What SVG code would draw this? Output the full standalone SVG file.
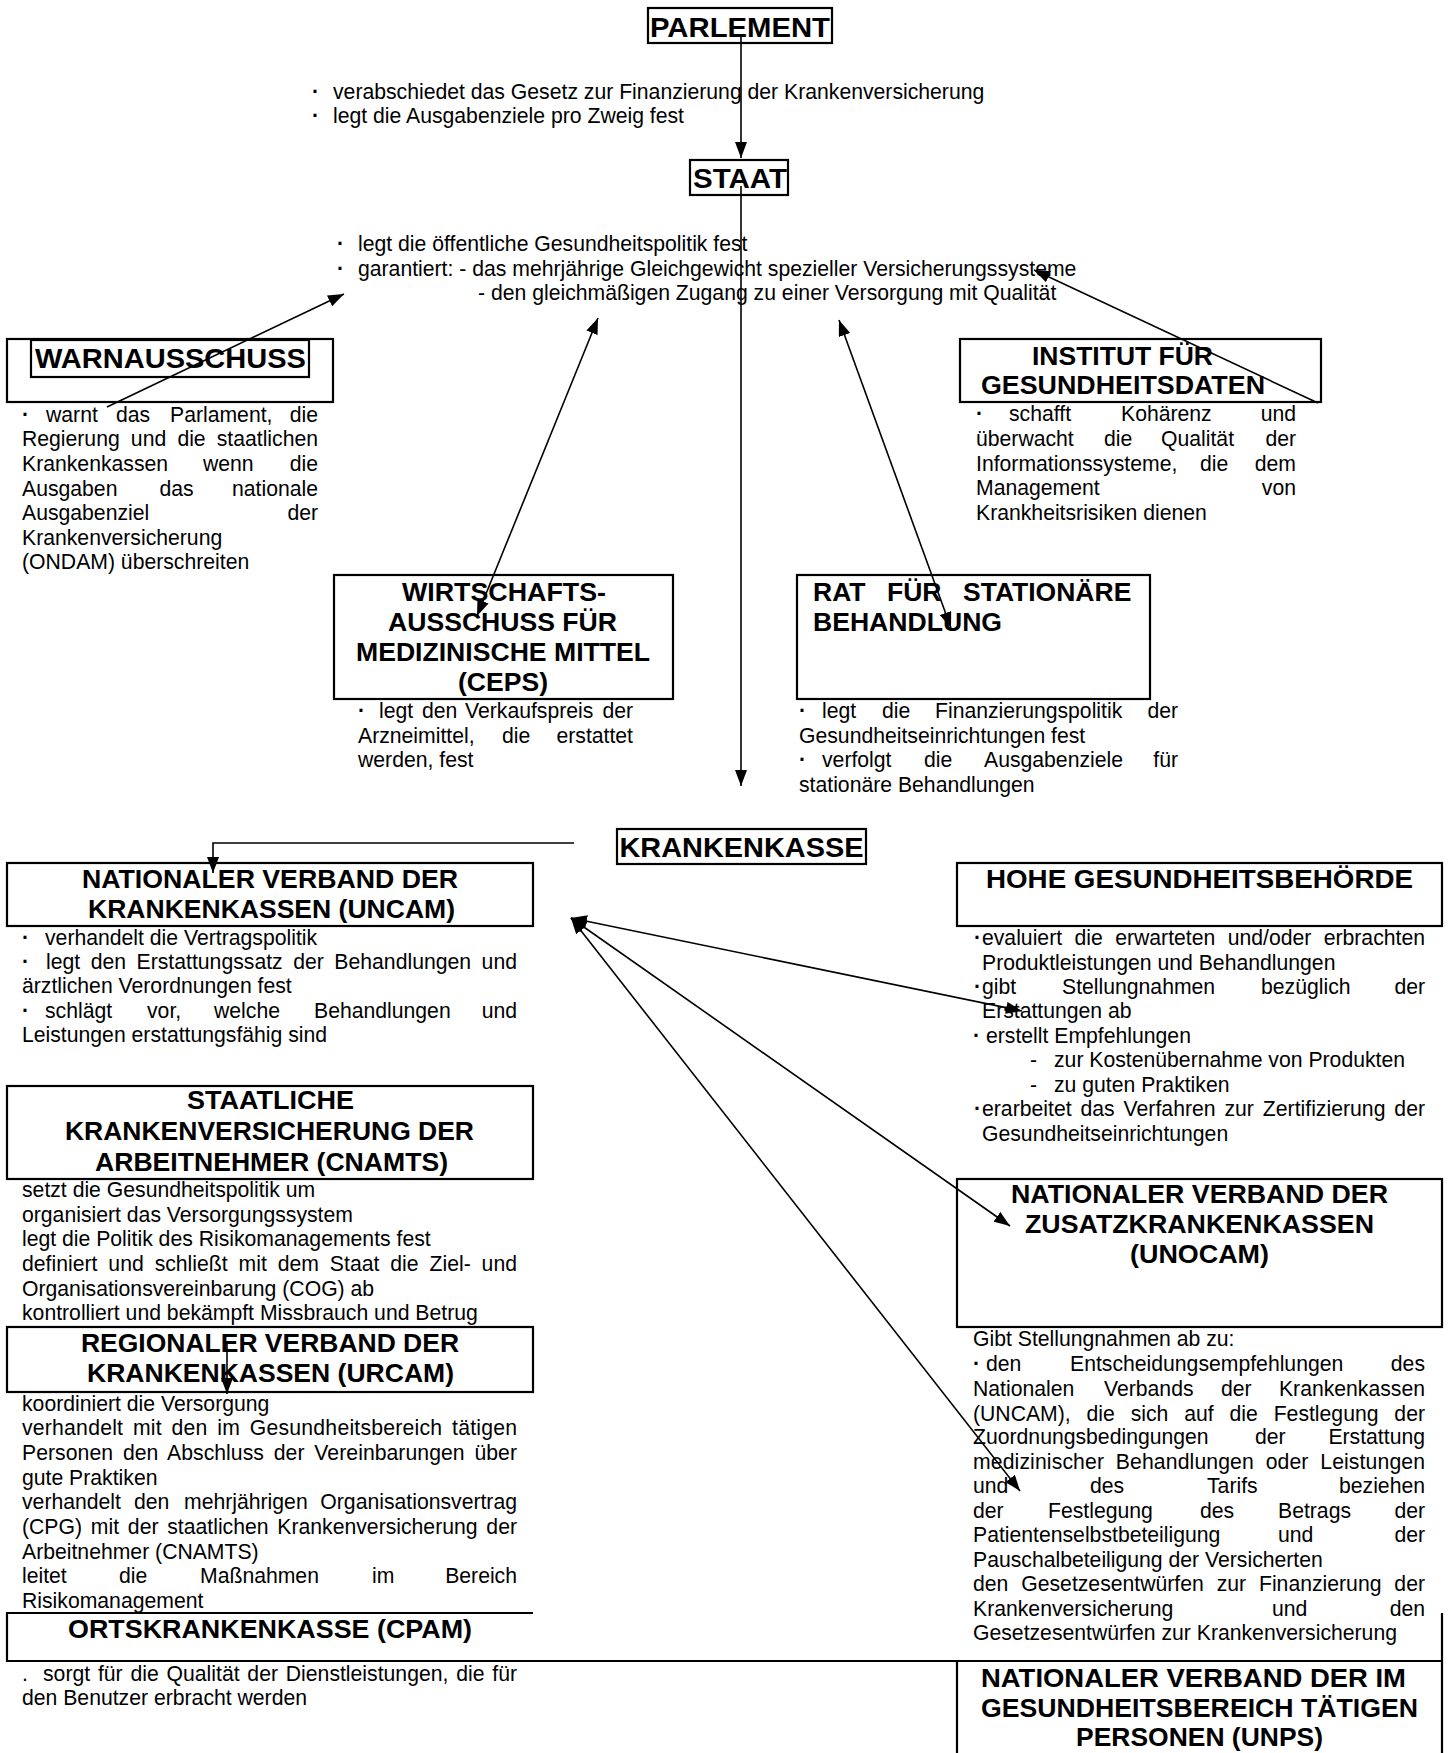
<svg xmlns="http://www.w3.org/2000/svg" width="1449" height="1753" viewBox="0 0 1449 1753">
<style>
.b{font-family:"Liberation Sans",Arial,sans-serif;font-size:21.2px;fill:#000}
.h{font-family:"Liberation Sans",Arial,sans-serif;font-weight:bold;font-size:26.5px;fill:#000;text-anchor:middle}
.h1{font-size:28.5px}
.s{text-anchor:start}
.e{text-anchor:end}
.d{font-weight:bold}
.box{fill:none;stroke:#000;stroke-width:2.2}
.c{fill:none;stroke:#000;stroke-width:1.6}
</style>
<defs>
<marker id="ah" markerUnits="userSpaceOnUse" markerWidth="16" markerHeight="12" viewBox="0 0 16 12" refX="16" refY="6" orient="auto-start-reverse"><path d="M0,0 L16,6 L0,12 z" fill="#000"/></marker>
</defs>
<rect width="1449" height="1753" fill="#fff"/>

<g id="parlement">
<rect class="box" x="648" y="8" width="184" height="35"/>
<text class="h h1" x="740" y="37" textLength="180" lengthAdjust="spacingAndGlyphs">PARLEMENT</text>
<text class="b" y="99"><tspan class="d" x="312">·</tspan><tspan x="333">verabschiedet das Gesetz zur Finanzierung der Krankenversicherung</tspan></text>
<text class="b" y="123"><tspan class="d" x="312">·</tspan><tspan x="333">legt die Ausgabenziele pro Zweig fest</tspan></text>
</g>

<g id="staat">
<rect class="box" x="690" y="160" width="98" height="35"/>
<text class="h h1" x="740" y="188" textLength="94" lengthAdjust="spacingAndGlyphs">STAAT</text>
<text class="b" y="251"><tspan class="d" x="337">·</tspan><tspan x="358">legt die öffentliche Gesundheitspolitik fest</tspan></text>
<text class="b" y="276"><tspan class="d" x="337">·</tspan><tspan x="358">garantiert: - das mehrjährige Gleichgewicht spezieller Versicherungssysteme</tspan></text>
<text class="b" x="478" y="300">- den gleichmäßigen Zugang zu einer Versorgung mit Qualität</text>
</g>

<g id="warnausschuss">
<rect class="box" x="7" y="339" width="326" height="63"/>
<rect class="box" x="31" y="340" width="278" height="37"/>
<text class="h h1" x="170.5" y="368" textLength="271" lengthAdjust="spacingAndGlyphs">WARNAUSSCHUSS</text>
<text class="b" y="422"><tspan class="d" x="22">·</tspan><tspan x="46">warnt</tspan><tspan x="116">das</tspan><tspan x="170">Parlament,</tspan><tspan class="e" x="318">die</tspan></text>
<text class="b" x="22" y="446" style="word-spacing:5.3px" textLength="296" lengthAdjust="spacing">Regierung und die staatlichen</text>
<text class="b" y="471"><tspan x="22">Krankenkassen</tspan><tspan x="203">wenn</tspan><tspan class="e" x="318">die</tspan></text>
<text class="b" y="496"><tspan x="22">Ausgaben</tspan><tspan x="159.5">das</tspan><tspan class="e" x="318">nationale</tspan></text>
<text class="b" y="520"><tspan x="22">Ausgabenziel</tspan><tspan class="e" x="318">der</tspan></text>
<text class="b" x="22" y="545">Krankenversicherung</text>
<text class="b" x="22" y="569">(ONDAM) überschreiten</text>
</g>

<g id="institut">
<rect class="box" x="960" y="339" width="361" height="63"/>
<text class="h" x="1122.5" y="365" textLength="181" lengthAdjust="spacingAndGlyphs">INSTITUT FÜR</text>
<text class="h" x="1123" y="394" textLength="284" lengthAdjust="spacingAndGlyphs">GESUNDHEITSDATEN</text>
<text class="b" y="421"><tspan class="d" x="976">·</tspan><tspan x="1009">schafft</tspan><tspan x="1121">Kohärenz</tspan><tspan class="e" x="1296">und</tspan></text>
<text class="b" y="446"><tspan x="976">überwacht</tspan><tspan x="1104">die</tspan><tspan x="1161">Qualität</tspan><tspan class="e" x="1296">der</tspan></text>
<text class="b" y="471"><tspan x="976">Informationssysteme,</tspan><tspan x="1200">die</tspan><tspan class="e" x="1296">dem</tspan></text>
<text class="b" y="495"><tspan x="976">Management</tspan><tspan class="e" x="1296">von</tspan></text>
<text class="b" x="976" y="520">Krankheitsrisiken dienen</text>
</g>

<g id="ceps">
<rect class="box" x="334" y="575" width="339" height="124"/>
<text class="h" x="504" y="601" textLength="204" lengthAdjust="spacingAndGlyphs">WIRTSCHAFTS-</text>
<text class="h" x="502.5" y="631" textLength="229" lengthAdjust="spacingAndGlyphs">AUSSCHUSS FÜR</text>
<text class="h" x="503" y="661" textLength="294" lengthAdjust="spacingAndGlyphs">MEDIZINISCHE MITTEL</text>
<text class="h" x="503" y="691" textLength="90" lengthAdjust="spacingAndGlyphs">(CEPS)</text>
<text class="b" y="718"><tspan class="d" x="358">·</tspan><tspan x="379">legt</tspan><tspan x="422">den</tspan><tspan x="465">Verkaufspreis</tspan><tspan class="e" x="633">der</tspan></text>
<text class="b" y="743"><tspan x="358">Arzneimittel,</tspan><tspan x="502">die</tspan><tspan class="e" x="633">erstattet</tspan></text>
<text class="b" x="358" y="767">werden, fest</text>
</g>

<g id="rat">
<rect class="box" x="797" y="575" width="353" height="124"/>
<text class="h s" y="601"><tspan x="813">RAT</tspan><tspan x="887">FÜR</tspan><tspan x="963">STATIONÄRE</tspan></text>
<text class="h s" x="813" y="631" textLength="189" lengthAdjust="spacingAndGlyphs">BEHANDLUNG</text>
<text class="b" y="718"><tspan class="d" x="799">·</tspan><tspan x="822">legt</tspan><tspan x="882">die</tspan><tspan x="935">Finanzierungspolitik</tspan><tspan class="e" x="1178">der</tspan></text>
<text class="b" x="799" y="743">Gesundheitseinrichtungen fest</text>
<text class="b" y="767"><tspan class="d" x="799">·</tspan><tspan x="822">verfolgt</tspan><tspan x="924">die</tspan><tspan x="984">Ausgabenziele</tspan><tspan class="e" x="1178">für</tspan></text>
<text class="b" x="799" y="792">stationäre Behandlungen</text>
</g>

<g id="krankenkasse">
<rect class="box" x="617" y="829" width="249" height="35"/>
<text class="h h1" x="741.5" y="857" textLength="244" lengthAdjust="spacingAndGlyphs">KRANKENKASSE</text>
</g>

<g id="uncam">
<rect class="box" x="7" y="863" width="526" height="63"/>
<text class="h" x="270" y="888" textLength="376" lengthAdjust="spacingAndGlyphs">NATIONALER VERBAND DER</text>
<text class="h" x="271.5" y="918" textLength="367" lengthAdjust="spacingAndGlyphs">KRANKENKASSEN (UNCAM)</text>
<text class="b" y="945"><tspan class="d" x="22">·</tspan><tspan x="45">verhandelt die Vertragspolitik</tspan></text>
<text class="b d" x="22" y="969">·</text>
<text class="b" x="46" y="969" style="word-spacing:4.6px" textLength="471" lengthAdjust="spacing">legt den Erstattungssatz der Behandlungen und</text>
<text class="b" x="22" y="993">ärztlichen Verordnungen fest</text>
<text class="b" y="1018"><tspan class="d" x="22">·</tspan><tspan x="45">schlägt</tspan><tspan x="147">vor,</tspan><tspan x="214">welche</tspan><tspan x="314">Behandlungen</tspan><tspan class="e" x="517">und</tspan></text>
<text class="b" x="22" y="1042">Leistungen erstattungsfähig sind</text>
</g>

<g id="hohe">
<rect class="box" x="957" y="863" width="485" height="63"/>
<text class="h" x="1199.5" y="888" textLength="427" lengthAdjust="spacingAndGlyphs">HOHE GESUNDHEITSBEHÖRDE</text>
<text class="b d" x="974" y="945">·</text>
<text class="b" x="982" y="945" style="word-spacing:6.5px" textLength="443" lengthAdjust="spacing">evaluiert die erwarteten und/oder erbrachten</text>
<text class="b" x="982" y="970">Produktleistungen und Behandlungen</text>
<text class="b" y="994"><tspan class="d" x="974">·</tspan><tspan x="982">gibt</tspan><tspan x="1062">Stellungnahmen</tspan><tspan x="1261">bezüglich</tspan><tspan class="e" x="1425">der</tspan></text>
<text class="b" x="982" y="1018">Erstattungen ab</text>
<text class="b" y="1043"><tspan class="d" x="973">·</tspan><tspan x="986">erstellt Empfehlungen</tspan></text>
<text class="b" y="1067"><tspan x="1030">-</tspan><tspan x="1054">zur Kostenübernahme von Produkten</tspan></text>
<text class="b" y="1092"><tspan x="1030">-</tspan><tspan x="1054">zu guten Praktiken</tspan></text>
<text class="b d" x="974" y="1116">·</text>
<text class="b" x="982" y="1116" style="word-spacing:3px" textLength="443" lengthAdjust="spacing">erarbeitet das Verfahren zur Zertifizierung der</text>
<text class="b" x="982" y="1141">Gesundheitseinrichtungen</text>
</g>

<g id="cnamts">
<rect class="box" x="7" y="1086" width="526" height="93"/>
<text class="h" x="270.5" y="1109" textLength="167" lengthAdjust="spacingAndGlyphs">STAATLICHE</text>
<text class="h" x="269.5" y="1140" textLength="409" lengthAdjust="spacingAndGlyphs">KRANKENVERSICHERUNG DER</text>
<text class="h" x="271.5" y="1171" textLength="353" lengthAdjust="spacingAndGlyphs">ARBEITNEHMER (CNAMTS)</text>
<text class="b" x="22" y="1197">setzt die Gesundheitspolitik um</text>
<text class="b" x="22" y="1222">organisiert das Versorgungssystem</text>
<text class="b" x="22" y="1246">legt die Politik des Risikomanagements fest</text>
<text class="b" x="22" y="1271" style="word-spacing:5px" textLength="495" lengthAdjust="spacing">definiert und schließt mit dem Staat die Ziel- und</text>
<text class="b" x="22" y="1296">Organisationsvereinbarung (COG) ab</text>
<text class="b" x="22" y="1320">kontrolliert und bekämpft Missbrauch und Betrug</text>
</g>

<g id="unocam">
<rect class="box" x="957" y="1179" width="485" height="148"/>
<text class="h" x="1199.5" y="1203" textLength="377" lengthAdjust="spacingAndGlyphs">NATIONALER VERBAND DER</text>
<text class="h" x="1199.5" y="1233" textLength="349" lengthAdjust="spacingAndGlyphs">ZUSATZKRANKENKASSEN</text>
<text class="h" x="1199.5" y="1263" textLength="139" lengthAdjust="spacingAndGlyphs">(UNOCAM)</text>
<text class="b" x="973" y="1346">Gibt Stellungnahmen ab zu:</text>
<text class="b" y="1371"><tspan class="d" x="973">·</tspan><tspan x="986">den</tspan><tspan x="1070">Entscheidungsempfehlungen</tspan><tspan class="e" x="1425">des</tspan></text>
<text class="b" y="1396"><tspan x="973">Nationalen</tspan><tspan x="1104">Verbands</tspan><tspan x="1221">der</tspan><tspan class="e" x="1425">Krankenkassen</tspan></text>
<text class="b" x="973" y="1421" style="word-spacing:10px" textLength="452" lengthAdjust="spacing">(UNCAM), die sich auf die Festlegung der</text>
<text class="b" y="1444"><tspan x="973">Zuordnungsbedingungen</tspan><tspan x="1255">der</tspan><tspan class="e" x="1425">Erstattung</tspan></text>
<text class="b" x="973" y="1469" style="word-spacing:5.7px" textLength="452" lengthAdjust="spacing">medizinischer Behandlungen oder Leistungen</text>
<text class="b" y="1493"><tspan x="973">und</tspan><tspan x="1090">des</tspan><tspan x="1207">Tarifs</tspan><tspan class="e" x="1425">beziehen</tspan></text>
<text class="b" y="1518"><tspan x="973">der</tspan><tspan x="1048">Festlegung</tspan><tspan x="1200">des</tspan><tspan x="1278">Betrags</tspan><tspan class="e" x="1425">der</tspan></text>
<text class="b" y="1542"><tspan x="973">Patientenselbstbeteiligung</tspan><tspan x="1278">und</tspan><tspan class="e" x="1425">der</tspan></text>
<text class="b" x="973" y="1567">Pauschalbeteiligung der Versicherten</text>
<text class="b" x="973" y="1591" style="word-spacing:7px" textLength="452" lengthAdjust="spacing">den Gesetzesentwürfen zur Finanzierung der</text>
<text class="b" y="1616"><tspan x="973">Krankenversicherung</tspan><tspan x="1272">und</tspan><tspan class="e" x="1425">den</tspan></text>
<text class="b" x="973" y="1640">Gesetzesentwürfen zur Krankenversicherung</text>
</g>

<g id="urcam">
<rect class="box" x="7" y="1327" width="526" height="65"/>
<text class="h" x="270" y="1352" textLength="378" lengthAdjust="spacingAndGlyphs">REGIONALER VERBAND DER</text>
<text class="h" x="270.5" y="1382" textLength="367" lengthAdjust="spacingAndGlyphs">KRANKENKASSEN (URCAM)</text>
<text class="b" x="22" y="1411">koordiniert die Versorgung</text>
<text class="b" x="22" y="1435" style="word-spacing:3.6px" textLength="495" lengthAdjust="spacing">verhandelt mit den im Gesundheitsbereich tätigen</text>
<text class="b" x="22" y="1460" style="word-spacing:3.9px" textLength="495" lengthAdjust="spacing">Personen den Abschluss der Vereinbarungen über</text>
<text class="b" x="22" y="1485">gute Praktiken</text>
<text class="b" y="1509"><tspan x="22">verhandelt</tspan><tspan x="134">den</tspan><tspan x="184">mehrjährigen</tspan><tspan class="e" x="517">Organisationsvertrag</tspan></text>
<text class="b" x="22" y="1534" style="word-spacing:2.9px" textLength="495" lengthAdjust="spacing">(CPG) mit der staatlichen Krankenversicherung der</text>
<text class="b" x="22" y="1559">Arbeitnehmer (CNAMTS)</text>
<text class="b" y="1583"><tspan x="22">leitet</tspan><tspan x="119">die</tspan><tspan x="200">Maßnahmen</tspan><tspan x="372">im</tspan><tspan class="e" x="517">Bereich</tspan></text>
<text class="b" x="22" y="1608">Risikomanagement</text>
</g>

<g id="cpam">
<path class="box" d="M533,1613 H7 V1661 H1442"/>
<text class="h" x="270" y="1638" textLength="404" lengthAdjust="spacingAndGlyphs">ORTSKRANKENKASSE (CPAM)</text>
<text class="b" x="22" y="1681">.</text>
<text class="b" x="43" y="1681" style="word-spacing:1.9px" textLength="474" lengthAdjust="spacing">sorgt für die Qualität der Dienstleistungen, die für</text>
<text class="b" x="22" y="1705">den Benutzer erbracht werden</text>
</g>

<g id="unps">
<path class="box" d="M957,1661 V1753 M1442,1613 V1753"/>
<text class="h" x="1193.5" y="1687" textLength="425" lengthAdjust="spacingAndGlyphs">NATIONALER VERBAND DER IM</text>
<text class="h" x="1199.5" y="1717" textLength="437" lengthAdjust="spacingAndGlyphs">GESUNDHEITSBEREICH TÄTIGEN</text>
<text class="h" x="1199.5" y="1746" textLength="247" lengthAdjust="spacingAndGlyphs">PERSONEN (UNPS)</text>
</g>

<g id="connectors">
<path class="c" d="M741,36 V158" marker-end="url(#ah)"/>
<path class="c" d="M741,186 V786" marker-end="url(#ah)"/>
<path class="c" d="M107,407 L344,294" marker-end="url(#ah)"/>
<path class="c" d="M477,616 L598,318" marker-start="url(#ah)" marker-end="url(#ah)"/>
<path class="c" d="M951,628 L839,320" marker-start="url(#ah)" marker-end="url(#ah)"/>
<path class="c" d="M1318,403 L1034,270" marker-end="url(#ah)"/>
<path class="c" d="M574,843 H213 V873" marker-end="url(#ah)"/>
<path class="c" d="M571,918 L1022,1011" marker-start="url(#ah)" marker-end="url(#ah)"/>
<path class="c" d="M571,918 L1010,1226" marker-start="url(#ah)" marker-end="url(#ah)"/>
<path class="c" d="M571,918 L1020,1491" marker-start="url(#ah)" marker-end="url(#ah)"/>
<path class="c" d="M227,1343 V1394" marker-end="url(#ah)"/>
</g>
</svg>
